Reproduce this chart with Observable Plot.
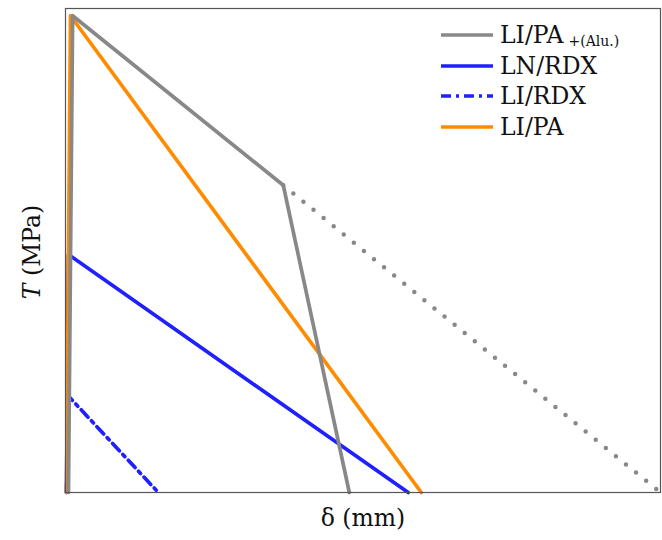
<!DOCTYPE html>
<html>
<head>
<meta charset="utf-8">
<script src="https://cdn.jsdelivr.net/npm/d3@7"></script>
<script src="https://cdn.jsdelivr.net/npm/@observablehq/plot@0.6"></script>
<style>
  html, body { margin: 0; padding: 0; background: #fff; }
  #wrap { position: relative; width: 662px; height: 540px; font-family: "DejaVu Serif", serif; }
  #legend { position: absolute; left: 441px; top: 20px; font-size: 23.5px; color: #111; }
  .row { display: flex; align-items: center; height: 30.5px; }
  .row svg { margin-right: 7px; }
  sub { font-size: 14px; vertical-align: -3px; margin-left: 5px; }
</style>
</head>
<body>
<div id="wrap">
  <div id="chart"></div>
  <div id="legend"></div>
</div>
<script>
// Separation δ (arbitrary units) and traction T (arbitrary units)
const liPaAluDelta = [0.05, 0.12, 3.66, 4.77];
const liPaAluT     = [0,    99,   63.8, 0];
const liPaAluTailDelta = [3.66, 10];
const liPaAluTailT     = [63.8, 0];
const lnRdxDelta = [0.017, 0.05, 5.76];
const lnRdxT     = [0,     49.4, 0];
const liRdxDelta = [0.017, 0.05, 1.56];
const liRdxT     = [0,     20.0, 0];
const liPaDelta  = [0.017, 0.084, 5.98];
const liPaT      = [0,     99,    0];

const colors = { gray: "#888888", blue: "#1f1fff", orange: "#ff8c00" };
const font = "'DejaVu Serif', serif";

const toRows = (xs, ys) => xs.map((d, i) => ({delta: d, T: ys[i]}));

const lw = 3.7;
const dashDot = "10,5,3,5";
const chart = Plot.plot({
  width: 662,
  height: 540,
  marginLeft: 65,
  marginRight: 2,
  marginTop: 8,
  marginBottom: 48,
  style: { fontFamily: font, background: "#fff" },
  x: { domain: [0, 10], axis: null },
  y: { domain: [0, 100.5], axis: null },
  marks: [
    Plot.line(toRows(liPaAluTailDelta, liPaAluTailT), {x: "delta", y: "T", stroke: colors.gray, strokeWidth: 4.5, strokeDasharray: "0,13", strokeLinecap: "round"}),
    Plot.line(toRows(liRdxDelta, liRdxT), {x: "delta", y: "T", stroke: colors.blue, strokeWidth: lw, strokeDasharray: dashDot}),
    Plot.line(toRows(lnRdxDelta, lnRdxT), {x: "delta", y: "T", stroke: colors.blue, strokeWidth: lw}),
    Plot.line(toRows(liPaDelta, liPaT), {x: "delta", y: "T", stroke: colors.orange, strokeWidth: lw}),
    Plot.line(toRows(liPaAluDelta, liPaAluT), {x: "delta", y: "T", stroke: colors.gray, strokeWidth: lw}),
    Plot.frame({stroke: "#555", strokeWidth: 1.2}),
    Plot.text(["δ (mm)"], {frameAnchor: "bottom", dy: 33, fontSize: 23.5, fill: "#111", text: d => d}),
  ]
});
document.getElementById("chart").appendChild(chart);

// y-axis label with italic T
const svg = d3.select(chart);
const yl = svg.append("text")
  .attr("transform", "translate(40,252) rotate(-90)")
  .attr("text-anchor", "middle")
  .attr("font-size", 23.5)
  .attr("fill", "#111")
  .attr("font-family", font);
yl.append("tspan").attr("font-style", "italic").text("T");
yl.append("tspan").text(" (MPa)");

// legend
const legendItems = [
  {label: "LI/PA", sub: "+(Alu.)", color: colors.gray, dash: null},
  {label: "LN/RDX", sub: null, color: colors.blue, dash: null},
  {label: "LI/RDX", sub: null, color: colors.blue, dash: dashDot},
  {label: "LI/PA", sub: null, color: colors.orange, dash: null},
];
const leg = document.getElementById("legend");
for (const it of legendItems) {
  const row = document.createElement("div");
  row.className = "row";
  row.innerHTML = `<svg width="52" height="10"><line x1="0" x2="52" y1="5" y2="5" stroke="${it.color}" stroke-width="${lw}" ${it.dash ? `stroke-dasharray="${it.dash}"` : ""}/></svg><span>${it.label}${it.sub ? `<sub>${it.sub}</sub>` : ""}</span>`;
  leg.appendChild(row);
}
</script>
</body>
</html>
